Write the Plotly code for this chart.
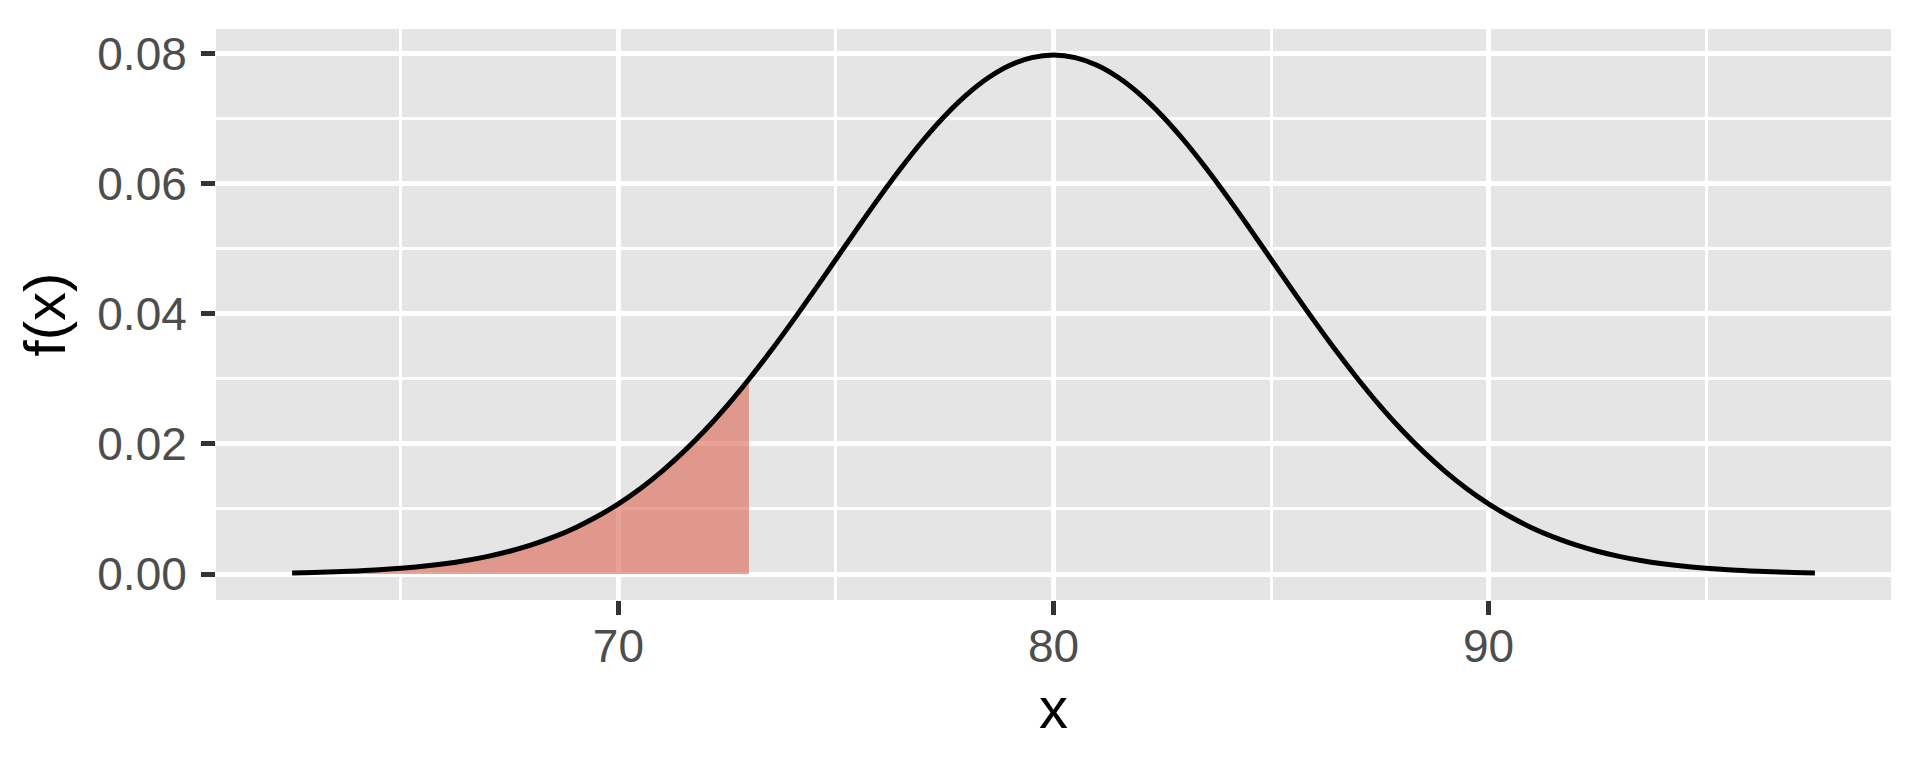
import plotly.graph_objects as go

# values
x_vals = [62.5, 63.0, 63.5, 64.0, 64.5, 65.0, 65.5, 66.0, 66.5, 67.0, 67.5, 68.0, 68.5, 69.0, 69.5,
          70.0, 70.5, 71.0, 71.5, 72.0, 72.5, 73.0, 73.5, 74.0, 74.5, 75.0, 75.5, 76.0, 76.5, 77.0,
          77.5, 78.0, 78.5, 79.0, 79.5, 80.0, 80.5, 81.0, 81.5, 82.0, 82.5, 83.0, 83.5, 84.0, 84.5,
          85.0, 85.5, 86.0, 86.5, 87.0, 87.5, 88.0, 88.5, 89.0, 89.5, 90.0, 90.5, 91.0, 91.5, 92.0,
          92.5, 93.0, 93.5, 94.0, 94.5, 95.0, 95.5, 96.0, 96.5, 97.0, 97.5]
y_vals = [0.00017, 0.00025, 0.00034, 0.00048, 0.00065, 0.00089, 0.00119, 0.00158, 0.00208, 0.00272,
          0.00351, 0.00448, 0.00567, 0.00709, 0.00880, 0.01080, 0.01312, 0.01579, 0.01881, 0.02218,
          0.02590, 0.02995, 0.03427, 0.03884, 0.04357, 0.04839, 0.05322, 0.05794, 0.06245, 0.06664,
          0.07041, 0.07365, 0.07628, 0.07821, 0.07939, 0.07979, 0.07939, 0.07821, 0.07628, 0.07365,
          0.07041, 0.06664, 0.06245, 0.05794, 0.05322, 0.04839, 0.04357, 0.03884, 0.03427, 0.02995,
          0.02590, 0.02218, 0.01881, 0.01579, 0.01312, 0.01080, 0.00880, 0.00709, 0.00567, 0.00448,
          0.00351, 0.00272, 0.00208, 0.00158, 0.00119, 0.00089, 0.00065, 0.00048, 0.00034, 0.00025,
          0.00017]
shade_upper = 73.0

x_ticks = [70, 80, 90]
x_minor = [65, 75, 85, 95]
y_ticks = [0.00, 0.02, 0.04, 0.06, 0.08]
y_tick_labels = ["0.00", "0.02", "0.04", "0.06", "0.08"]
y_minor = [0.01, 0.03, 0.05, 0.07]

shade_x = [xv for xv in x_vals if xv <= shade_upper]
shade_y = [yv for xv, yv in zip(x_vals, y_vals) if xv <= shade_upper]

FONT = "Liberation Sans, Arial, sans-serif"

fig = go.Figure()
fig.add_trace(go.Scatter(
    x=shade_x, y=shade_y, mode="lines", fill="tozeroy",
    fillcolor="rgba(222,100,80,0.6)",
    line=dict(color="rgba(130,40,25,0.85)", width=3, shape="spline"),
    hoverinfo="skip", showlegend=False))
fig.add_trace(go.Scatter(
    x=x_vals, y=y_vals, mode="lines",
    line=dict(color="black", width=5, shape="spline"),
    showlegend=False))

xmin, xmax = min(x_vals), max(x_vals)
xpad = (xmax - xmin) * 0.05
ymax = max(y_vals)
ypad = ymax * 0.05

axis_common = dict(
    showline=False, zeroline=False, automargin=False,
    gridcolor="white", gridwidth=5,
    ticks="outside", ticklen=14, tickwidth=5, tickcolor="#333333",
    tickfont=dict(family=FONT, size=46, color="#4D4D4D"),
)

fig.update_xaxes(
    range=[xmin - xpad, xmax + xpad],
    tickvals=x_ticks, ticktext=[str(v) for v in x_ticks],
    minor=dict(tickvals=x_minor, showgrid=True, gridcolor="white", gridwidth=2.7, ticks=""),
    title=dict(text="x", font=dict(family=FONT, size=58, color="black"), standoff=16),
    ticklabelstandoff=-8,
    **axis_common)
fig.update_yaxes(
    range=[0 - ypad, ymax + ypad],
    tickvals=y_ticks, ticktext=y_tick_labels,
    minor=dict(tickvals=y_minor, showgrid=True, gridcolor="white", gridwidth=2.7, ticks=""),
    title=dict(text="f(x)", font=dict(family=FONT, size=58, color="black"), standoff=12),
    ticklabelstandoff=5,
    **axis_common)

# page body has an 8px default margin; compensate so the panel lands where the reference has it
fig.update_layout(
    width=1920, height=768,
    margin=dict(l=208, r=37, t=21, b=176),
    plot_bgcolor="#E5E5E5", paper_bgcolor="white",
    font=dict(family=FONT),
)

fig.write_html("out.html")
